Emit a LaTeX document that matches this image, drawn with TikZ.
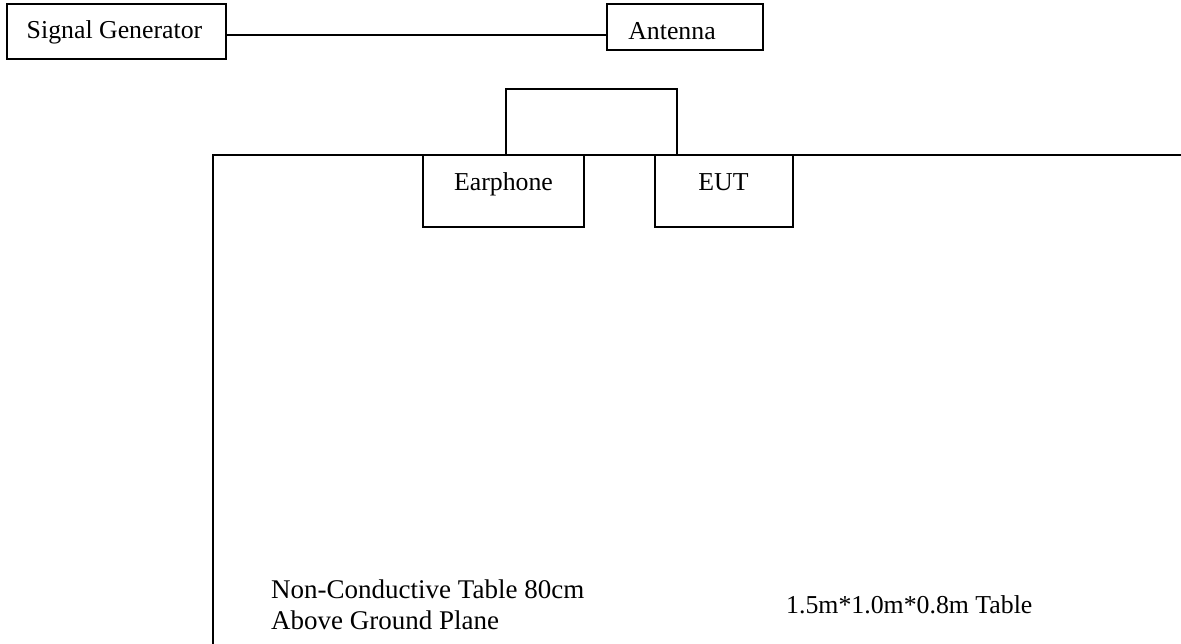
\documentclass[tikz,border=0pt]{standalone}
\usepackage{fontspec}
\setmainfont{Liberation Serif}
\begin{document}
\begin{tikzpicture}[x=1pt,y=-1pt,
  box/.style={draw,line width=1.3pt,inner sep=0pt,rectangle},
  lbl/.style={inner sep=0pt,anchor=base,font=\fontsize{25.8}{31}\selectfont},
  lbll/.style={inner sep=0pt,anchor=base west,font=\fontsize{27}{31}\selectfont},
  wire/.style={line width=1.3pt}]
\useasboundingbox (0,0) rectangle (1181,644);
% boxes
\node[box,minimum width=219pt,minimum height=55pt] (sg) at (116.5,31.5) {};
\node[box,minimum width=156pt,minimum height=46pt] (ant) at (685,27) {};
% table
\coordinate (tr) at (1181,155);
\coordinate (tl) at (213,155);
\coordinate (bl) at (213,644);
\draw[wire] (tr) -- (tl) -- (bl);
\node[box,fill=white,minimum width=161pt,minimum height=72pt] (ear) at (503.5,191) {};
\node[box,fill=white,minimum width=138pt,minimum height=72pt] (eut) at (724,191) {};
% labels
\node[lbl] (sgt) at (114.5,39) {Signal Generator};
\node[lbl] (antt) at (672,40) {Antenna};
\node[lbl] (eart) at (503.5,191) {Earphone};
\node[lbl] (eutt) at (723.5,191) {EUT};
\node[lbll] (nc1) at (271,598) {Non-Conductive Table 80cm};
\node[lbll] (nc2) at (271,629) {Above Ground Plane};
\node[lbll,font=\fontsize{25.8}{31}\selectfont] (dim) at (786,613.5) {1.5m*1.0m*0.8m Table};
% connectors
\coordinate (ly) at (0,35);
\draw[wire] (sg.east |- ly) -- (ant.west |- ly);
\coordinate (la) at (506,155);
\coordinate (lb) at (677,89);
\coordinate (lc) at (677,155);
\draw[wire] (la) |- (lb) -- (lc);
\end{tikzpicture}
\end{document}
